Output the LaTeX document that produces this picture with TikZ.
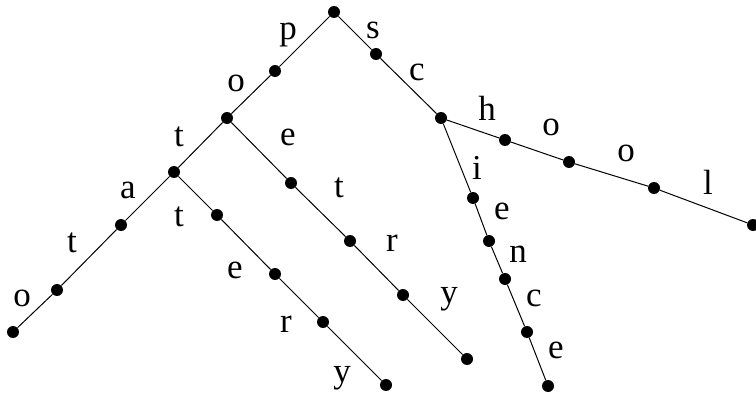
\documentclass[tikz,border=0pt]{standalone}
\usepackage{fontspec}
\setmainfont{Liberation Serif}
\tikzset{
  dot/.style={circle, fill=black, inner sep=0pt, minimum size=12pt},
  letter/.style={inner sep=0pt, font=\fontsize{35}{40}\selectfont},
  edge/.style={line width=1pt}
}
\begin{document}
\begin{tikzpicture}[x=1pt, y=-1pt]
\useasboundingbox (0,0) rectangle (756,396);
% trie nodes
\node[dot] (root) at (334,12) {};
\node[dot] (p) at (275,71) {};
\node[dot] (po) at (227,118) {};
\node[dot] (pot) at (174,172) {};
\node[dot] (pota) at (121,225) {};
\node[dot] (potat) at (57,290) {};
\node[dot] (potato) at (13,332) {};
\node[dot] (poe) at (291,183) {};
\node[dot] (poet) at (350,241) {};
\node[dot] (poetr) at (403,295) {};
\node[dot] (poetry) at (467,359) {};
\node[dot] (pott) at (217,215) {};
\node[dot] (potte) at (275,274) {};
\node[dot] (potter) at (323,322) {};
\node[dot] (pottery) at (386,385) {};
\node[dot] (s) at (376,54) {};
\node[dot] (sc) at (441,118) {};
\node[dot] (sch) at (505,140) {};
\node[dot] (scho) at (569,162) {};
\node[dot] (schoo) at (654,188) {};
\node[dot] (school) at (753,225) {};
\node[dot] (sci) at (473,198) {};
\node[dot] (scie) at (489,241) {};
\node[dot] (scien) at (505,279) {};
\node[dot] (scienc) at (527,332) {};
\node[dot] (science) at (548,386) {};
% edges
\draw[edge] (root) -- (p) -- (po) -- (pot) -- (pota) -- (potat) -- (potato);
\draw[edge] (po) -- (poe) -- (poet) -- (poetr) -- (poetry);
\draw[edge] (pot) -- (pott) -- (potte) -- (potter) -- (pottery);
\draw[edge] (root) -- (s) -- (sc) -- (sch) -- (scho) -- (schoo) -- (school);
\draw[edge] (sc) -- (sci) -- (scie) -- (scien) -- (scienc) -- (science);
% letters
\node[letter] (lp) at (288,35) {p};
\node[letter] (lpo) at (236,83) {o};
\node[letter] (lpot) at (179,137) {t};
\node[letter] (lpota) at (128,190) {a};
\node[letter] (lpotat) at (72,243) {t};
\node[letter] (lpotato) at (22,298) {o};
\node[letter] (lpoe) at (288,137) {e};
\node[letter] (lpoet) at (339,188) {t};
\node[letter] (lpoetr) at (392,243) {r};
\node[letter] (lpoetry) at (449,299) {y};
\node[letter] (lpott) at (179,217) {t};
\node[letter] (lpotte) at (235,270) {e};
\node[letter] (lpotter) at (286,324) {r};
\node[letter] (lpottery) at (342,378) {y};
\node[letter] (ls) at (373,30) {s};
\node[letter] (lsc) at (417,72) {c};
\node[letter] (lsch) at (487,108) {h};
\node[letter] (lscho) at (551,127) {o};
\node[letter] (lschoo) at (626,153) {o};
\node[letter] (lschool) at (708,182) {l};
\node[letter] (lsci) at (477,168) {i};
\node[letter] (lscie) at (502,211) {e};
\node[letter] (lscien) at (518,254) {n};
\node[letter] (lscienc) at (534,298) {c};
\node[letter] (lscience) at (556,350) {e};
\end{tikzpicture}
\end{document}
